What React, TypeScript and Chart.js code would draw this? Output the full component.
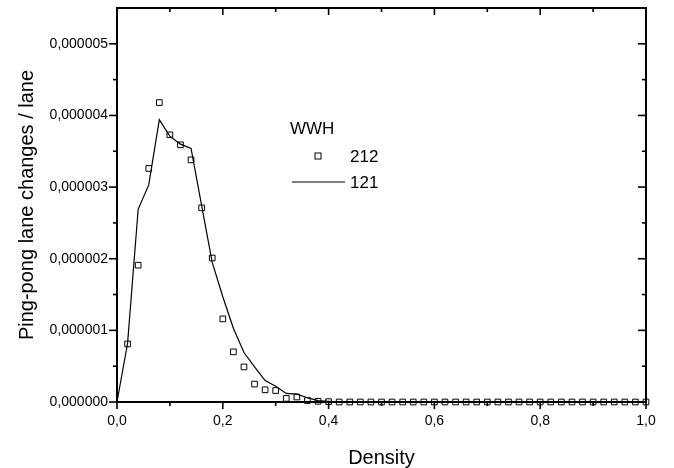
import React, { useEffect, useRef } from "react";
import { Chart, registerables } from "chart.js";

Chart.register(...registerables);

// Density values for WWH 212 (scatter squares)
const density212 = [
  0.02, 0.04, 0.06, 0.08, 0.1, 0.12, 0.14, 0.16, 0.18, 0.2,
  0.22, 0.24, 0.26, 0.28, 0.3, 0.32, 0.34, 0.36, 0.38, 0.4,
  0.42, 0.44, 0.46, 0.48, 0.5, 0.52, 0.54, 0.56, 0.58, 0.6,
  0.62, 0.64, 0.66, 0.68, 0.7, 0.72, 0.74, 0.76, 0.78, 0.8,
  0.82, 0.84, 0.86, 0.88, 0.9, 0.92, 0.94, 0.96, 0.98, 1.0,
];
const changes212 = [
  0.81e-6, 1.91e-6, 3.26e-6, 4.18e-6, 3.73e-6, 3.59e-6, 3.38e-6, 2.71e-6, 2.01e-6, 1.16e-6,
  0.7e-6, 0.49e-6, 0.25e-6, 0.17e-6, 0.16e-6, 0.05e-6, 0.07e-6, 0.02e-6, 0.01e-6, 0.005e-6,
  0, 0, 0, 0, 0, 0, 0, 0, 0, 0,
  0, 0, 0, 0, 0, 0, 0, 0, 0, 0,
  0, 0, 0, 0, 0, 0, 0, 0, 0, 0,
];

// Density values for WWH 121 (line)
const density121 = [
  0, 0.02, 0.04, 0.06, 0.08, 0.1, 0.12, 0.14, 0.16, 0.18, 0.2,
  0.22, 0.24, 0.26, 0.28, 0.3, 0.32, 0.34, 0.36, 0.38, 0.4,
  0.42, 0.44, 0.46, 0.48, 0.5, 0.52, 0.54, 0.56, 0.58, 0.6,
  0.62, 0.64, 0.66, 0.68, 0.7, 0.72, 0.74, 0.76, 0.78, 0.8,
  0.82, 0.84, 0.86, 0.88, 0.9, 0.92, 0.94, 0.96, 0.98, 1.0,
];
const changes121 = [
  0, 0.82e-6, 2.69e-6, 3.03e-6, 3.94e-6, 3.71e-6, 3.6e-6, 3.54e-6, 2.74e-6, 1.95e-6, 1.47e-6,
  1.03e-6, 0.69e-6, 0.49e-6, 0.3e-6, 0.22e-6, 0.12e-6, 0.11e-6, 0.06e-6, 0.02e-6, 0.01e-6,
  0, 0, 0, 0, 0, 0, 0, 0, 0, 0,
  0, 0, 0, 0, 0, 0, 0, 0, 0, 0,
  0, 0, 0, 0, 0, 0, 0, 0, 0, 0,
];

const xMajorTicks = [0, 0.2, 0.4, 0.6, 0.8, 1.0];
const xMinorTicks = [0.1, 0.3, 0.5, 0.7, 0.9];
const yMajorTicks = [0, 1e-6, 2e-6, 3e-6, 4e-6, 5e-6];
const yMinorTicks = [0.5e-6, 1.5e-6, 2.5e-6, 3.5e-6, 4.5e-6];

const legendTitle = "WWH";
const seriesNames = ["212", "121"];
const xTitle = "Density";
const yTitle = "Ping-pong lane changes / lane";

const TICK_FONT = "'Liberation Sans', Arial, sans-serif";
const TEXT_FONT = "'Liberation Sans', Arial, sans-serif";

const fmt = (v: number, digits: number) => v.toFixed(digits).replace(".", ",");

const zeroPad = (s: any) => {
  s.paddingTop = 0;
  s.paddingBottom = 0;
  s.paddingLeft = 0;
  s.paddingRight = 0;
};

const framePlugin = {
  id: "framePlugin",
  afterDraw(chart: any) {
    const { ctx, chartArea } = chart;
    const { left, right, top, bottom } = chartArea;
    const xs = chart.scales.x;
    const ys = chart.scales.y;
    ctx.save();
    ctx.strokeStyle = "#000";
    ctx.lineWidth = 2;
    ctx.strokeRect(left, top, right - left, bottom - top);

    ctx.lineWidth = 1.6;
    const seg = (x1: number, y1: number, x2: number, y2: number) => {
      ctx.beginPath();
      ctx.moveTo(x1, y1);
      ctx.lineTo(x2, y2);
      ctx.stroke();
    };
    xMajorTicks.forEach((v) => {
      const px = xs.getPixelForValue(v);
      seg(px, bottom, px, bottom + 7);
      seg(px, top, px, top + 7);
    });
    xMinorTicks.forEach((v) => {
      const px = xs.getPixelForValue(v);
      seg(px, bottom, px, bottom + 4);
      seg(px, top, px, top + 4);
    });
    yMajorTicks.forEach((v) => {
      const py = ys.getPixelForValue(v);
      seg(left - 8, py, left, py);
      seg(right - 8, py, right, py);
    });
    yMinorTicks.forEach((v) => {
      const py = ys.getPixelForValue(v);
      seg(left - 4, py, left, py);
      seg(right - 4, py, right, py);
    });

    // Legend
    const lx = left + 173;
    const ly = top + 121;
    ctx.fillStyle = "#000";
    ctx.font = `17px ${TEXT_FONT}`;
    ctx.textBaseline = "middle";
    ctx.textAlign = "left";
    ctx.fillText(legendTitle, lx, ly);
    ctx.lineWidth = 1;
    ctx.strokeRect(lx + 25, ly + 24, 6, 6);
    ctx.fillText(chart.data.datasets[0].label, lx + 60, ly + 28);
    ctx.lineWidth = 1.2;
    seg(lx + 2, ly + 53, lx + 55, ly + 53);
    ctx.fillText(chart.data.datasets[1].label, lx + 60, ly + 54);
    ctx.restore();
  },
};

export default function App() {
  const canvasRef = useRef<HTMLCanvasElement | null>(null);

  useEffect(() => {
    document.body.style.margin = "0";
    const canvas = canvasRef.current;
    if (!canvas) return;
    const chart = new Chart(canvas, {
      type: "scatter",
      data: {
        datasets: [
          {
            label: seriesNames[0],
            data: density212.map((x, i) => ({ x, y: changes212[i] })),
            showLine: false,
            pointStyle: "rect",
            pointRadius: 4,
            pointBorderWidth: 1,
            pointBorderColor: "#000",
            pointBackgroundColor: "rgba(0,0,0,0)",
            clip: false as any,
          },
          {
            label: seriesNames[1],
            data: density121.map((x, i) => ({ x, y: changes121[i] })),
            showLine: true,
            borderColor: "#000",
            borderWidth: 1.2,
            pointRadius: 0,
            tension: 0,
            clip: false as any,
          },
        ],
      },
      options: {
        responsive: false,
        animation: false,
        devicePixelRatio: 1,
        layout: { padding: { left: 0, top: 8, right: 28, bottom: 0 } },
        plugins: {
          legend: { display: false },
          tooltip: { enabled: false },
        },
        scales: {
          x: {
            type: "linear",
            min: 0,
            max: 1,
            afterFit: (s: any) => {
              s.height = 66;
              zeroPad(s);
            },
            afterBuildTicks: (s: any) => {
              s.ticks = xMajorTicks.map((value) => ({ value }));
            },
            grid: { display: false, drawTicks: false },
            border: { display: false },
            ticks: {
              padding: 11,
              color: "#000",
              font: { family: TICK_FONT, size: 14 },
              maxRotation: 0,
              callback: (v: any) => fmt(Number(v), 1),
            },
            title: {
              display: true,
              text: xTitle,
              color: "#000",
              font: { family: TEXT_FONT, size: 20 },
              padding: { top: 0, bottom: -2 },
            },
          },
          y: {
            type: "linear",
            min: 0,
            max: 5.5e-6,
            afterFit: (s: any) => {
              s.width = 117;
              zeroPad(s);
            },
            afterBuildTicks: (s: any) => {
              s.ticks = yMajorTicks.map((value) => ({ value }));
            },
            grid: { display: false, drawTicks: false },
            border: { display: false },
            ticks: {
              padding: 9,
              color: "#000",
              font: { family: TICK_FONT, size: 14 },
              callback: (v: any) => fmt(Number(v), 6),
            },
            title: {
              display: true,
              text: yTitle,
              color: "#000",
              font: { family: TEXT_FONT, size: 20 },
              padding: { top: 15, bottom: 0 },
            },
          },
        },
      },
      plugins: [framePlugin],
    });
    return () => chart.destroy();
  }, []);

  return (
    <div style={{ width: 674, height: 468 }}>
      <canvas ref={canvasRef} width={674} height={468} style={{ display: "block" }} />
    </div>
  );
}
